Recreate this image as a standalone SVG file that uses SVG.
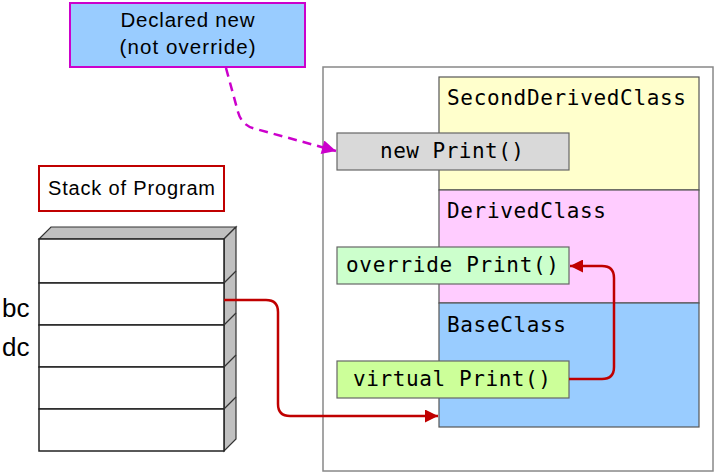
<svg xmlns="http://www.w3.org/2000/svg" width="716" height="475" viewBox="0 0 716 475">
<defs>
<style>
.sans{font-family:"Liberation Sans","DejaVu Sans",sans-serif;fill:#000}
.mono{font-family:"DejaVu Sans Mono","Liberation Mono",monospace;font-size:21px;fill:#000}
.cls{stroke:#555;stroke-width:1.2}
.meth{stroke:#666;stroke-width:1.2}
.row{fill:#fff;stroke:#222;stroke-width:1.5}
.side{fill:#c0c0c0;stroke:#333;stroke-width:1.2}
.red{fill:none;stroke:#c00000;stroke-width:2.5}
</style>
<marker id="ar" viewBox="0 0 10 10" refX="10" refY="5" markerWidth="20" markerHeight="13" markerUnits="userSpaceOnUse" orient="auto">
<path d="M0,0 L10,5 L0,10 z" fill="#c00000"/>
</marker>
<marker id="am" viewBox="0 0 10 10" refX="10" refY="5" markerWidth="16" markerHeight="14" markerUnits="userSpaceOnUse" orient="auto">
<path d="M0,0 L10,5 L0,10 z" fill="#cc00cc"/>
</marker>
</defs>

<g id="container">
<rect x="323" y="67" width="390" height="404" fill="#fff" stroke="#888" stroke-width="1.5"/>
</g>

<g id="SecondDerivedClass">
<rect class="cls" x="439" y="77" width="260" height="113" fill="#ffffcc"/>
<text class="mono" x="447" y="105" textLength="239">SecondDerivedClass</text>
</g>
<g id="DerivedClass">
<rect class="cls" x="439" y="190" width="260" height="113" fill="#ffccff"/>
<text class="mono" x="447" y="218" textLength="159">DerivedClass</text>
</g>
<g id="BaseClass">
<rect class="cls" x="439" y="303" width="260" height="124" fill="#99ccff"/>
<text class="mono" x="447" y="332" textLength="119">BaseClass</text>
</g>

<g id="newPrint">
<rect class="meth" x="337" y="133" width="232" height="37" fill="#d9d9d9"/>
<text class="mono" x="380" y="158" textLength="144">new Print()</text>
</g>
<g id="overridePrint">
<rect class="meth" x="337" y="247" width="232" height="37" fill="#ccffcc"/>
<text class="mono" x="346" y="272" textLength="213">override Print()</text>
</g>
<g id="virtualPrint">
<rect class="meth" x="337" y="361" width="232" height="37" fill="#ccff99"/>
<text class="mono" x="353" y="386" textLength="198">virtual Print()</text>
</g>

<g id="callout">
<rect x="70" y="3" width="235" height="64" fill="#99ccff" stroke="#cc00cc" stroke-width="2"/>
<text class="sans" font-size="20.5" x="187.5" y="27" text-anchor="middle" textLength="134">Declared new</text>
<text class="sans" font-size="20.5" x="187.5" y="54" text-anchor="middle" textLength="136">(not override)</text>
</g>

<g id="stackLabel">
<rect x="39" y="166" width="185" height="45" fill="#fff" stroke="#c00000" stroke-width="2"/>
<text class="sans" font-size="20" x="131.5" y="195" text-anchor="middle" textLength="167">Stack of Program</text>
</g>

<g id="stack">
<polygon class="side" points="39,239 51,227 236,227 224,239"/>
<polygon class="side" points="224,239 236,227 236,439 224,451"/>
<rect class="row" x="39" y="239" width="185" height="44"/>
<rect class="row" x="39" y="283" width="185" height="42"/>
<rect class="row" x="39" y="325" width="185" height="42"/>
<rect class="row" x="39" y="367" width="185" height="42"/>
<rect class="row" x="39" y="409" width="185" height="42"/>
<g stroke="#333" stroke-width="1.2">
<line x1="224" y1="283" x2="236" y2="271"/>
<line x1="224" y1="325" x2="236" y2="313"/>
<line x1="224" y1="367" x2="236" y2="355"/>
<line x1="224" y1="409" x2="236" y2="397"/>
</g>
<text class="sans" font-size="26" x="2" y="317">bc</text>
<text class="sans" font-size="26" x="2" y="356">dc</text>
</g>

<g id="connectors">
<path d="M226,68 L238,112 Q242,126 256,129 L336,151" fill="none" stroke="#cc00cc" stroke-width="2.5" stroke-dasharray="9,6" marker-end="url(#am)"/>
<path class="red" d="M224,300 L266,300 Q278,300 278,312 L278,404 Q278,416 290,416 L438,416" marker-end="url(#ar)"/>
<path class="red" d="M569,379 L602,379 Q614,379 614,367 L614,278 Q614,266 602,266 L570,266" marker-end="url(#ar)"/>
</g>
</svg>
